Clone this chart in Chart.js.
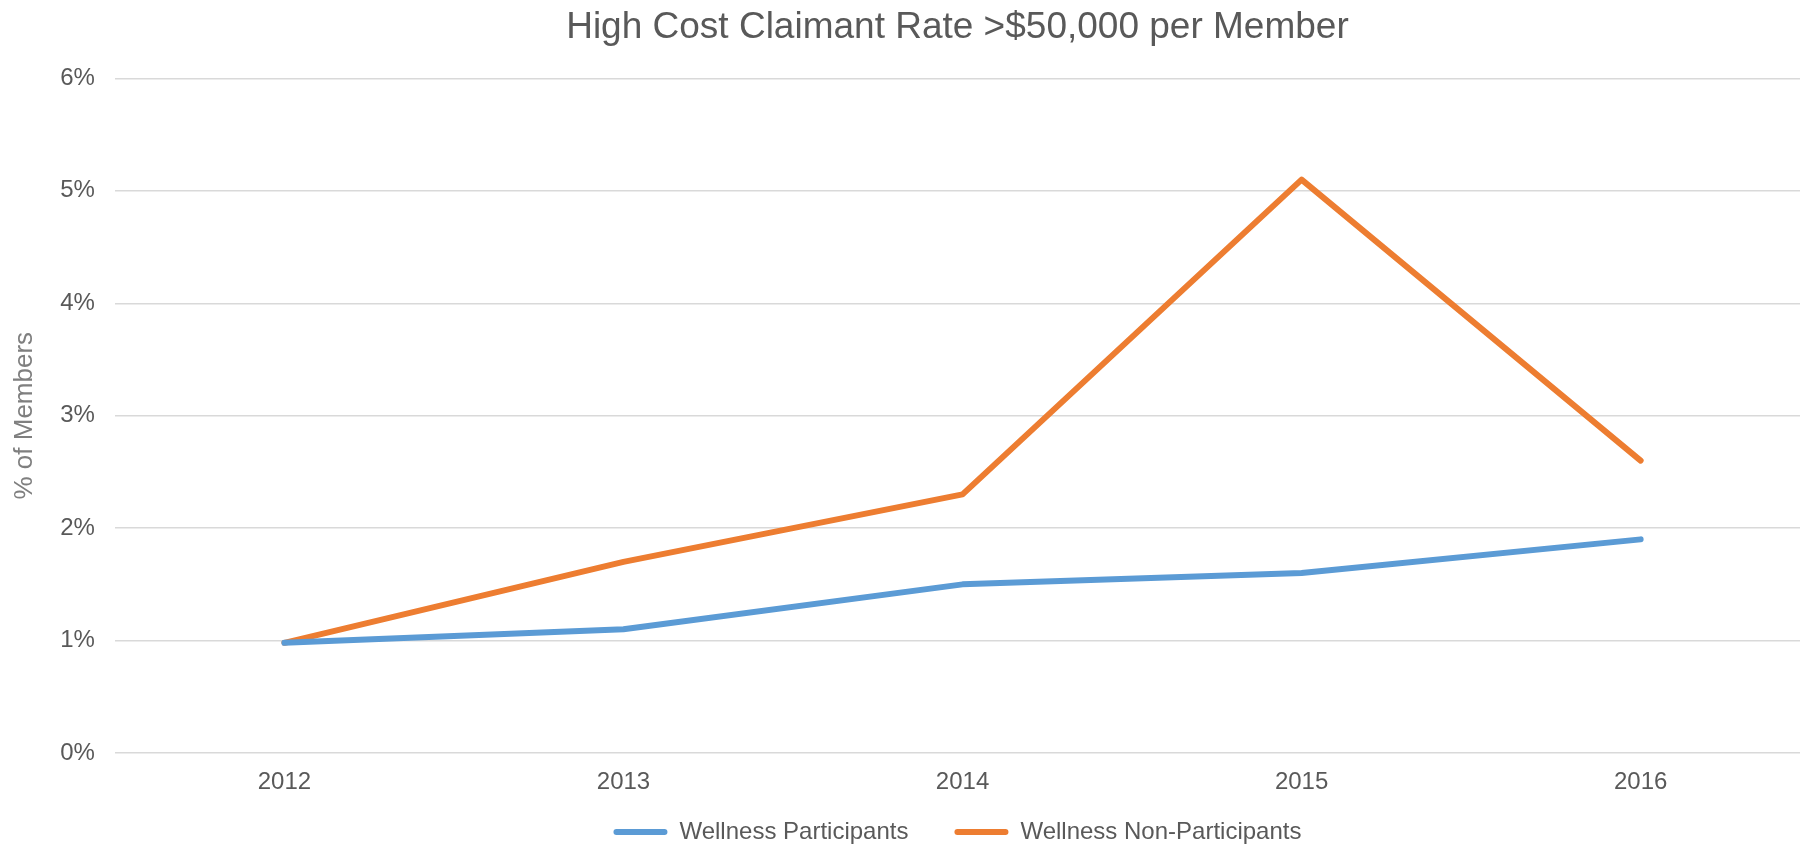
<!DOCTYPE html>
<html>
<head>
<meta charset="utf-8">
<title>High Cost Claimant Rate</title>
<script src="https://cdn.jsdelivr.net/npm/chart.js@4.4.1/dist/chart.umd.min.js"></script>
<style>
  html, body { margin: 0; padding: 0; background: #fff; overflow: hidden; }
  #wrap { width: 1800px; height: 847px; position: relative; }
</style>
</head>
<body>
<div id="wrap"><canvas id="hccChart"></canvas></div>
<script>
// Chart data
const years = [2012, 2013, 2014, 2015, 2016];
const participants = [0.98, 1.1, 1.5, 1.6, 1.9];
const nonParticipants = [0.98, 1.7, 2.3, 5.1, 2.6];
const yTicks = [0, 1, 2, 3, 4, 5, 6];

const FONT = '"Liberation Sans", Arial, sans-serif';
const TEXT = '#595959';

function toPoints(values) {
    return years.map((y, i) => ({ x: y, y: values[i] }));
}

const ctx = document.getElementById('hccChart').getContext('2d');

new Chart(ctx, {
    type: 'line',
    data: {
        datasets: [{
            label: 'Wellness Participants',
            data: toPoints(participants),
            borderColor: '#5b9bd5',
            backgroundColor: '#5b9bd5',
            borderWidth: 6,
            borderCapStyle: 'round',
            borderJoinStyle: 'round',
            pointRadius: 0,
            tension: 0
        }, {
            label: 'Wellness Non-Participants',
            data: toPoints(nonParticipants),
            borderColor: '#ed7d31',
            backgroundColor: '#ed7d31',
            borderWidth: 6,
            borderCapStyle: 'round',
            borderJoinStyle: 'round',
            pointRadius: 0,
            tension: 0
        }]
    },
    options: {
        responsive: true,
        maintainAspectRatio: false,
        animation: false,
        layout: { padding: { left: 0, right: 0, top: 0, bottom: -7 } },
        plugins: {
            title: {
                display: true,
                text: 'High Cost Claimant Rate >$50,000 per Member',
                color: TEXT,
                fullSize: false,
                font: { family: FONT, size: 37, weight: 'normal' },
                padding: { top: 5.5, bottom: 28.5 }
            },
            legend: {
                position: 'bottom',
                fullSize: false,
                labels: {
                    color: TEXT,
                    font: { family: FONT, size: 24 },
                    boxWidth: 54,
                    boxHeight: 6,
                    padding: 46,
                    useBorderRadius: true,
                    borderRadius: 3,
                    generateLabels: chart =>
                        Chart.defaults.plugins.legend.labels.generateLabels(chart)
                            .map(l => ({ ...l, lineWidth: 0 }))
                }
            },
            tooltip: { enabled: false }
        },
        scales: {
            x: {
                type: 'linear',
                position: 'bottom',
                min: 2011.5,
                max: 2016.47,
                afterBuildTicks: axis => { axis.ticks = years.map(v => ({ value: v })); },
                // short axis box; mirrored labels are not clipped, so they
                // can hang down into the legend's top padding
                afterFit: axis => { axis.height = 21; },
                grid: { display: false, drawTicks: false },
                border: { display: false },
                ticks: {
                    color: TEXT,
                    font: { family: FONT, size: 24 },
                    mirror: true,
                    padding: -43.4,
                    maxRotation: 0,
                    autoSkip: false,
                    callback: v => String(v)
                }
            },
            y: {
                min: 0,
                max: 6,
                afterBuildTicks: axis => { axis.ticks = yTicks.map(v => ({ value: v })); },
                grid: { color: '#d9d9d9', lineWidth: 1.5, drawTicks: false },
                border: { display: false },
                ticks: {
                    color: TEXT,
                    font: { family: FONT, size: 24 },
                    padding: 20,
                    callback: v => v + '%'
                },
                title: {
                    display: true,
                    text: '% of Members',
                    color: '#7f7f7f',
                    font: { family: FONT, size: 26 },
                    padding: { top: 9, bottom: 0 }
                }
            }
        }
    }
});
</script>
</body>
</html>
